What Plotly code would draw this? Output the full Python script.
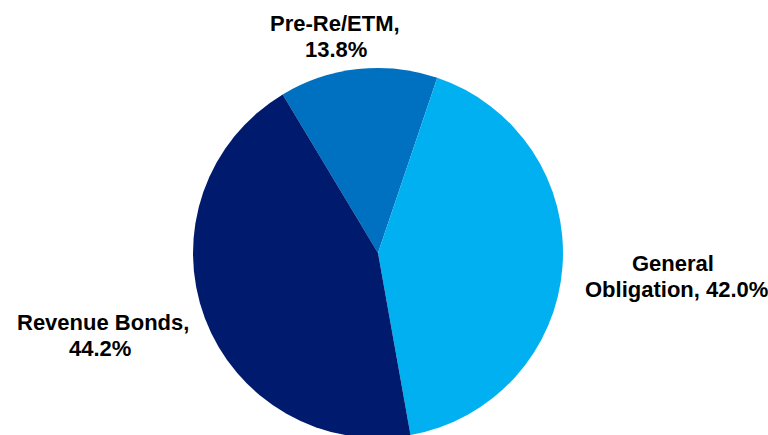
import plotly.graph_objects as go

categories = ["Pre-Re/ETM", "General Obligation", "Revenue Bonds"]
values = [13.8, 42.0, 44.2]
colors = ["#0070C0", "#00B0F0", "#001A6E"]

# label lines and their pixel anchors (x center, y middle) in a 768x441 canvas
label_lines = [
    ("Pre-Re/ETM,", 335, 24),
    ("13.8%", 336, 50),
    ("General", 673, 263),
    ("Obligation, 42.0%", 676, 289),
    ("Revenue Bonds,", 103, 322),
    ("44.2%", 100, 348),
]

W, H = 768, 441
cx, cy, r = 378, 253, 185

fig = go.Figure(go.Pie(
    labels=categories,
    values=values,
    sort=False,
    direction="clockwise",
    rotation=-31,
    marker=dict(colors=colors, line=dict(width=0)),
    textinfo="none",
    hoverinfo="label+percent",
    showlegend=False,
    domain=dict(x=[(cx - r) / W, (cx + r) / W],
                y=[(H - cy - r) / H, (H - cy + r) / H]),
))

for txt, px, py in label_lines:
    fig.add_annotation(
        x=px / W, y=1 - py / H, xref="paper", yref="paper",
        text=txt, showarrow=False, xanchor="center", yanchor="middle",
        font=dict(family="Liberation Sans, Arial, sans-serif", size=22, color="black", weight="bold"),
    )

fig.update_layout(
    width=W, height=H,
    margin=dict(l=0, r=0, t=0, b=0),
    paper_bgcolor="white",
    plot_bgcolor="white",
)

fig.write_html("out.html", post_script="document.body.style.overflow='hidden';document.body.style.margin='0';")
